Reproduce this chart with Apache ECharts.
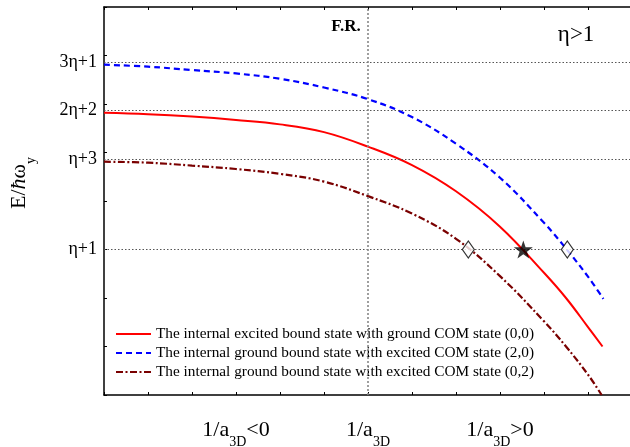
<!DOCTYPE html>
<html><head><meta charset="utf-8">
<script src="https://cdn.jsdelivr.net/npm/echarts@6/dist/echarts.min.js"></script>
<style>html,body{margin:0;padding:0;background:#fff}#c{width:630px;height:447px}</style>
</head><body><div id="c"></div>
<script>
// ---- data ----
const seriesNames = [
  'The internal excited bound state with ground COM state (0,0)',
  'The internal ground bound state with excited COM state (2,0)',
  'The internal ground bound state with excited COM state (0,2)'
];
const redPts  = [[0,5.82],[1,5.79],[2,5.74],[3,5.67],[4,5.58],[5,5.42],[6,5.12],[7,4.74],[8,4.20],[9,3.47],[10,2.52],[10.5,2.0],[11,1.4],[11.33,1.0]];
const bluePts = [[0,6.81],[1,6.77],[2,6.70],[3,6.63],[4,6.52],[5,6.34],[6,6.10],[7,5.73],[8,5.18],[9,4.48],[10,3.55],[10.5,3.02],[11,2.44],[11.35,1.98]];
const darkPts = [[0,4.81],[1,4.79],[2,4.73],[3,4.66],[4,4.56],[5,4.40],[6,4.10],[7,3.74],[8,3.22],[9,2.45],[10,1.52],[10.5,1.0],[11,0.42],[11.31,0]];
const starPts = [[9.53,3.0]];
const diamondPts = [[8.28,3.0],[10.53,3.0]];
const yLevelValues = [3, 4.86, 5.87, 6.86];
const yLevelLabels = ['η+1', 'η+3', '2η+2', '3η+1'];
const xLabelValues = [3, 6, 9];
const xLabelTexts = ['{m|1/a}{s|3D}{m|<0}', '{m|1/a}{s|3D}', '{m|1/a}{s|3D}{m|>0}'];
const frX = 6;
const frText = 'F.R.';
const frPos = [5.5, 7.59];
const etaText = 'η>1';
const etaPos = [10.73, 7.42];

const FONT = 'Liberation Serif';
const STAR = 'path://M50,0 L61.8,35.1 L98.9,35.1 L68.9,56.9 L80.3,91.9 L50,70.2 L19.7,91.9 L31.1,56.9 L1.1,35.1 L38.2,35.1 Z';
const CLEAR = 'rgba(0,0,0,0)';

const chart = echarts.init(document.getElementById('c'), null, {renderer: 'canvas'});
const option = {
  animation: false,
  backgroundColor: '#fff',
  grid: {left: 104, top: 7, width: 528, height: 388, containLabel: false, outerBoundsMode: 'none'},
  legend: {
    orient: 'vertical', left: 115, top: 326, padding: 0,
    itemWidth: 35, itemHeight: 14, itemGap: 3,
    data: seriesNames,
    itemStyle: {color: CLEAR, borderColor: CLEAR, borderWidth: 0},
    textStyle: {fontFamily: FONT, fontSize: 15.3, lineHeight: 16, color: '#000'}
  },
  xAxis: [{
    type: 'value', min: 0, max: 12, interval: 1, position: 'bottom',
    axisLine: {show: true, onZero: false, lineStyle: {color: '#000', width: 1.5}},
    axisTick: {show: true, inside: true, length: 3, lineStyle: {color: '#000'}},
    splitLine: {show: false},
    axisLabel: {
      customValues: xLabelValues, margin: 24,
      formatter: v => { const i = xLabelValues.findIndex(t => Math.abs(t - v) < 1e-6); return i >= 0 ? xLabelTexts[i] : ''; },
      rich: {
        m: {fontFamily: FONT, fontSize: 22, lineHeight: 30, verticalAlign: 'top', color: '#000'},
        s: {fontFamily: FONT, fontSize: 14, lineHeight: 30, verticalAlign: 'bottom', color: '#000'}
      },
      fontFamily: FONT, fontSize: 22, color: '#000'
    }
  }, {
    type: 'value', min: 0, max: 12, interval: 1, position: 'top',
    axisLine: {show: true, onZero: false, lineStyle: {color: '#000', width: 1.5}},
    axisTick: {show: true, inside: true, length: 3, lineStyle: {color: '#000'}},
    splitLine: {show: false}, axisLabel: {show: false}
  }],
  yAxis: {
    type: 'value', min: 0, max: 8, interval: 1,
    axisLine: {show: true, onZero: false, lineStyle: {color: '#000', width: 1.5}},
    axisTick: {show: true, inside: true, length: 3, lineStyle: {color: '#000'}},
    splitLine: {show: false},
    axisLabel: {
      customValues: yLevelValues, margin: 7,
      formatter: v => { const i = yLevelValues.findIndex(t => Math.abs(t - v) < 1e-6); return i >= 0 ? yLevelLabels[i] : ''; },
      fontFamily: FONT, fontSize: 18, color: '#000'
    },
    name: '{m|E/}{i|ħ}{m|ω}{s|y}',
    nameLocation: 'middle', nameRotate: 90, nameGap: 66,
    nameTextStyle: {
      padding: [0, 0, 0, 36],
      rich: {
        m: {fontFamily: FONT, fontSize: 22, lineHeight: 30, verticalAlign: 'top', color: '#000'},
        i: {fontFamily: FONT, fontSize: 22, fontStyle: 'italic', lineHeight: 30, verticalAlign: 'top', color: '#000'},
        s: {fontFamily: FONT, fontSize: 14, lineHeight: 30, verticalAlign: 'bottom', color: '#000'}
      }
    }
  },
  series: [
    {
      name: seriesNames[0], type: 'line', data: redPts, smooth: 0.4, symbol: 'none',
      lineStyle: {color: '#ff0000', width: 2}, itemStyle: {color: '#ff0000'}, z: 4,
      markLine: {
        silent: true, symbol: 'none', label: {show: false},
        data: yLevelValues.map(v => ({yAxis: v, lineStyle: {color: '#555', type: [1.5, 2], width: 1}}))
          .concat([{xAxis: frX, lineStyle: {color: '#888', type: [2, 2], width: 1.6}}])
      },
      markPoint: {
        silent: true, symbol: 'circle', symbolSize: 1, itemStyle: {color: CLEAR},
        data: [
          {coord: frPos, label: {show: true, position: 'inside', formatter: frText, fontFamily: FONT, fontSize: 17, fontWeight: 'bold', color: '#000'}},
          {coord: etaPos, label: {show: true, position: 'inside', formatter: etaText, fontFamily: FONT, fontSize: 23, color: '#000'}}
        ]
      }
    },
    {
      name: seriesNames[1], type: 'line', data: bluePts, smooth: 0.4, symbol: 'none',
      lineStyle: {color: '#0000ff', width: 2.2, type: [6, 4]}, itemStyle: {color: '#0000ff'}, z: 4
    },
    {
      name: seriesNames[2], type: 'line', data: darkPts, smooth: 0.4, symbol: 'none',
      lineStyle: {color: '#7a0000', width: 2.2, type: [7, 2.5, 2, 2.5]}, itemStyle: {color: '#7a0000'}, z: 4
    },
    {
      name: 'star', type: 'scatter', data: starPts, symbol: STAR, symbolSize: [19, 18],
      itemStyle: {color: '#000'}, z: 6
    },
    {
      name: 'diamond', type: 'scatter', data: diamondPts, symbol: 'diamond', symbolSize: [12, 17],
      itemStyle: {color: '#fff', borderColor: '#000', borderWidth: 1.2}, z: 6
    }
  ]
};
chart.setOption(option);
</script>
</body></html>
